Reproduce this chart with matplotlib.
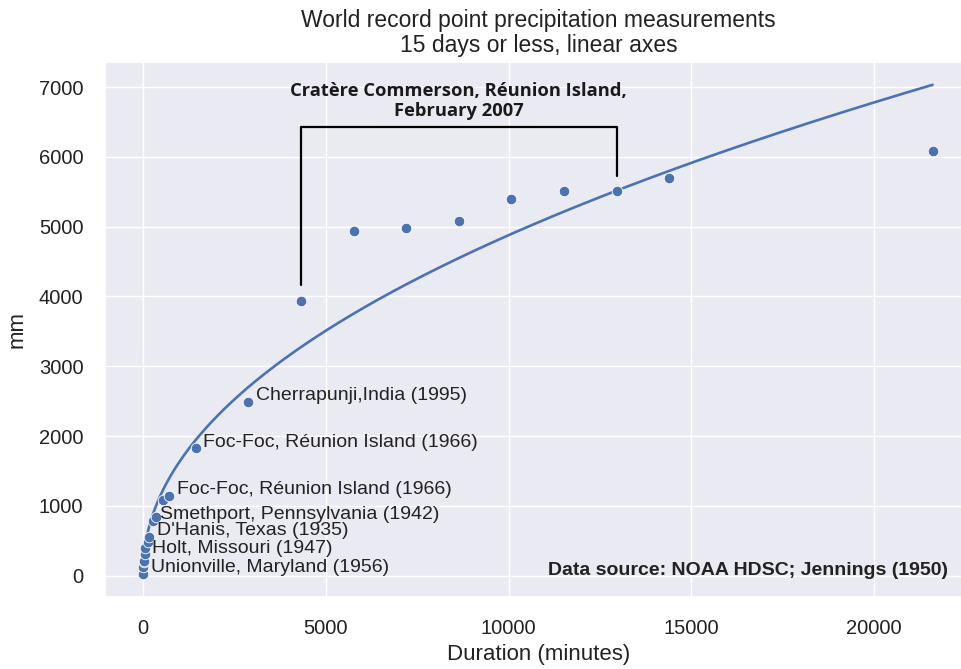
import numpy as np
import matplotlib
matplotlib.use("Agg")
import matplotlib.pyplot as plt
import seaborn as sns

# Data (duration in minutes, depth in mm)
durations = [1, 8, 15, 20, 42, 60, 130, 165, 270, 360, 540, 720, 1440, 2880,
             4320, 5760, 7200, 8640, 10080, 11520, 12960, 14400, 21600]
depths = [31, 126, 198, 206, 305, 401, 483, 559, 782, 840, 1087, 1144, 1825, 2493,
          3929, 4936, 4979, 5075, 5400, 5510, 5512, 5690, 6083]

labels = {
    1: "Unionville, Maryland (1956)",
    42: "Holt, Missouri (1947)",
    165: "D'Hanis, Texas (1935)",
    270: "Smethport, Pennsylvania (1942)",
    720: "Foc-Foc, Réunion Island (1966)",
    1440: "Foc-Foc, Réunion Island (1966)",
    2880: "Cherrapunji,India (1995)",
}

# Envelope curve parameters: depth = a * duration^b
fit_a = 61.4
fit_b = 0.475

bracket_x = [4320, 12960]
bracket_bottom = [4170, 5730]
bracket_top = 6430

sns.set_theme(style="darkgrid")
plt.rcParams['font.family'] = ['Liberation Sans', 'DejaVu Sans']

fig = plt.figure(figsize=(9.62, 6.69), dpi=100)
ax = fig.add_axes([0.1091, 0.1076, 0.9013, 0.7997])

xs = np.linspace(1, max(durations), 800)
ax.plot(xs, fit_a * xs ** fit_b, color="#4C72B0", lw=1.9, zorder=2)
ax.scatter(durations, depths, s=58, color="#4C72B0", edgecolor="white", linewidth=0.6, zorder=3)

for d, v in zip(durations, depths):
    if d in labels:
        ax.annotate(labels[d], (d, v), xytext=(5.5, 4.5), textcoords="offset points",
                    ha="left", va="center", fontsize=14, color="#222222")

# bracket
ax.plot([bracket_x[0], bracket_x[0], bracket_x[1], bracket_x[1]],
        [bracket_bottom[0], bracket_top, bracket_top, bracket_bottom[1]],
        color="black", lw=1.6, zorder=2)
ax.text(sum(bracket_x) / 2, bracket_top + 100, "Cratère Commerson, Réunion Island,\nFebruary 2007",
        ha="center", va="bottom", fontsize=13.2, fontweight="bold",
        family=["Open Sans", "DejaVu Sans"], linespacing=1.15, color="#1a1a1a")

ax.text(0.972, 0.05, "Data source: NOAA HDSC; Jennings (1950)", transform=ax.transAxes,
        ha="right", va="center", fontsize=14, fontweight="bold", color="#222222")

ax.set_xlim(-1040, 22680)
ax.set_ylim(-305, 7358)

ax.set_title("World record point precipitation measurements\n15 days or less, linear axes",
             fontsize=16.5, color="#222222", pad=7, linespacing=1.1)
ax.set_xlabel("Duration (minutes)", fontsize=16, color="#222222", labelpad=5)
ax.set_ylabel("mm", fontsize=16, color="#222222", labelpad=8)
ax.tick_params(labelsize=14.5, colors="#222222", pad=9.5)
ax.set_xticks([0, 5000, 10000, 15000, 20000])
ax.set_yticks(range(0, 8000, 1000))

fig.savefig("out.png", dpi=100)
